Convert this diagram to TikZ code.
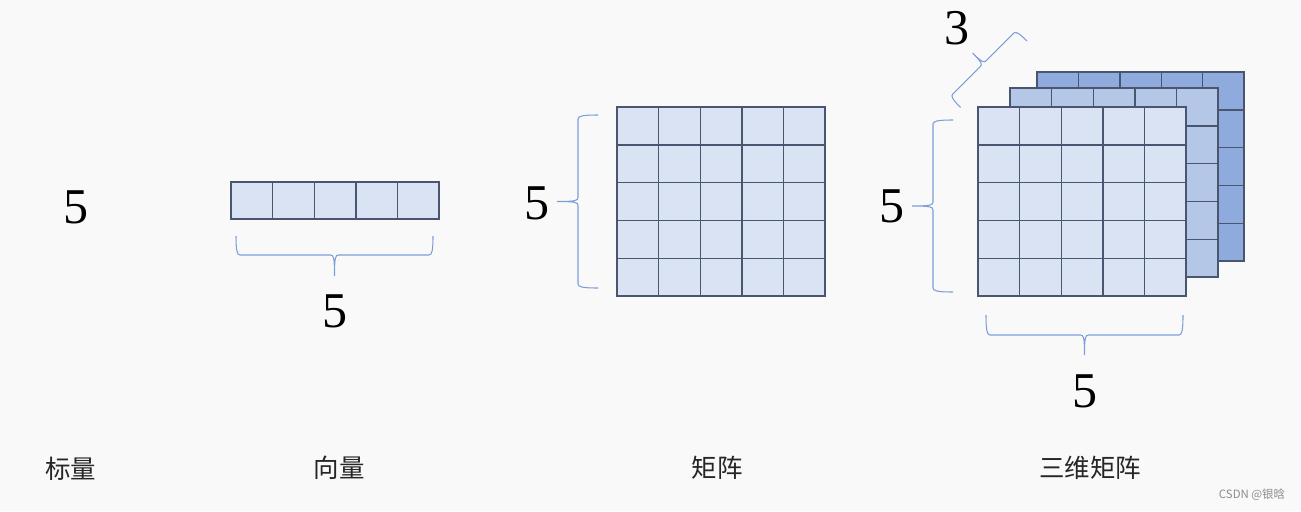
\documentclass[tikz,border=0pt]{standalone}
\usepackage{fontspec}
\setmainfont{Liberation Serif}
\newfontfamily\cjk{Noto Sans CJK SC}

\definecolor{bgcol}{HTML}{F9F9F9}
\definecolor{layerfront}{HTML}{DAE3F3}
\definecolor{layermid}{HTML}{B4C7E7}
\definecolor{layerback}{HTML}{8FAADC}
\definecolor{cellline}{HTML}{4A5670}
\definecolor{bracecol}{HTML}{7E9ED8}

\tikzset{
    cell/.style={draw=cellline, line width=0.8pt},
    bracepen/.style={draw=bracecol, line width=0.6pt},
    dimnum/.style={font=\fontsize{28.5}{30}\selectfont, inner sep=0pt},
    caption/.style={font=\cjk\fontsize{14.5}{16}\selectfont, text=black!85, inner sep=0pt},
    pics/curly/.style n args={3}{code={
        \draw[bracepen] (0,0) .. controls (0,{#2*0.75}) and (1,#2) .. (4,#2)
            -- ({#1/2-4},#2) .. controls ({#1/2-1},#2) and ({#1/2},{#2+2}) .. ({#1/2},{#2+#3})
            .. controls ({#1/2},{#2+2}) and ({#1/2+1},#2) .. ({#1/2+4},#2)
            -- ({#1-4},#2) .. controls ({#1-1},#2) and (#1,{#2*0.75}) .. (#1,0);
    }}
}

\begin{document}
\begin{tikzpicture}[x=0.02cm, y=-0.02cm]

    \fill[bgcol] (0,0) rectangle (1301,511);
    \useasboundingbox (0,0) rectangle (1301,511);

    % scalar
    \node[dimnum] (scalarval) at (76,207) {5};

    % vector
    \foreach \i in {0,...,4}
        \filldraw[cell, fill=layerfront] ({231+\i*41.6},182) rectangle ++(41.6,37);
    \pic at (236,236) {curly={197}{19}{21}};
    \node[dimnum] (vecval) at (335,311) {5};

    % matrix
    \foreach \i in {0,...,4}
        \foreach \j in {0,...,4}
            \filldraw[cell, fill=layerfront] ({617+\i*41.6},{107+\j*37.8}) rectangle ++(41.6,37.8);
    \pic[rotate=-90] at (598,115) {curly={173}{20}{21}};
    \node[dimnum] (matval) at (537,203) {5};

    % 3d matrix, back to front
    \foreach \i in {0,...,4}
        \foreach \j in {0,...,4}
            \filldraw[cell, fill=layerback] ({1037+\i*41.4},{72+\j*37.8}) rectangle ++(41.4,37.8);
    \foreach \i in {0,...,4}
        \foreach \j in {0,...,4}
            \filldraw[cell, fill=layermid] ({1010+\i*41.6},{88+\j*37.8}) rectangle ++(41.6,37.8);
    \foreach \i in {0,...,4}
        \foreach \j in {0,...,4}
            \filldraw[cell, fill=layerfront] ({978+\i*41.6},{107+\j*37.8}) rectangle ++(41.6,37.8);

    \pic[rotate=-90] at (953,120) {curly={172}{20}{21}};
    \node[dimnum] (cuberows) at (892,206) {5};
    \pic at (986,315) {curly={197}{20}{20}};
    \node[dimnum] (cubecols) at (1085,391) {5};
    \pic[rotate=225] at (1027,41) {curly={94}{15}{15}};
    \node[dimnum] (cubedepth) at (957,28) {3};

    % captions
    \node[caption] (scalarcap) at (71,469) {标量};
    \node[caption] (veccap) at (339,468) {向量};
    \node[caption] (matcap) at (717,468) {矩阵};
    \node[caption] (cubecap) at (1090,468) {三维矩阵};

    \node[font=\cjk\fontsize{6.5}{7}\selectfont, text=black!45, inner sep=0pt] (mark) at (1252,495) {CSDN @银晗};

\end{tikzpicture}
\end{document}
